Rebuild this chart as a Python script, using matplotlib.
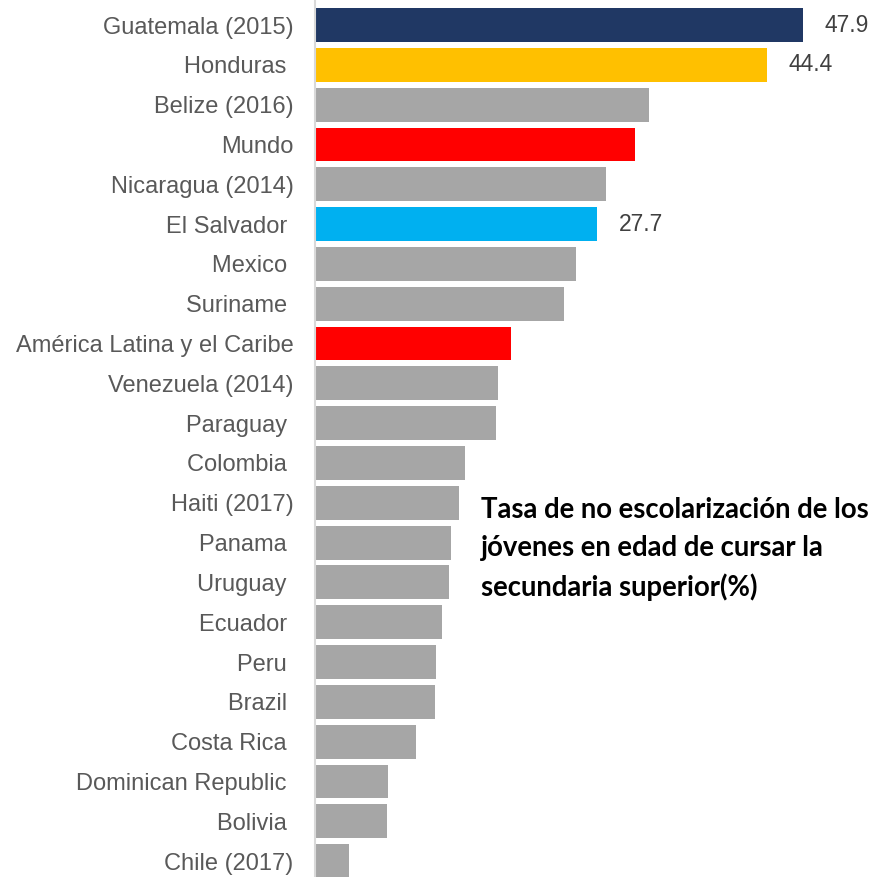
import matplotlib.pyplot as plt
import numpy as np

countries = [
    "Guatemala (2015)", "Honduras ", "Belize (2016)", "Mundo", "Nicaragua (2014)",
    "El Salvador ", "Mexico ", "Suriname ", "América Latina y el Caribe",
    "Venezuela (2014)", "Paraguay ", "Colombia ", "Haiti (2017)", "Panama ",
    "Uruguay ", "Ecuador ", "Peru ", "Brazil ", "Costa Rica ",
    "Dominican Republic ", "Bolivia ", "Chile (2017)",
]
values = [47.9, 44.4, 32.8, 31.4, 28.6, 27.7, 25.6, 24.4, 19.2, 18.0, 17.8,
          14.7, 14.1, 13.3, 13.2, 12.5, 11.9, 11.8, 9.9, 7.2, 7.1, 3.3]
highlight = {"Guatemala (2015)": "#203864", "Honduras ": "#FFC000",
             "Mundo": "#FF0000", "El Salvador ": "#00B0F0",
             "América Latina y el Caribe": "#FF0000"}
labelled = ["Guatemala (2015)", "Honduras ", "El Salvador "]

plt.rcParams["font.family"] = ["Liberation Sans", "DejaVu Sans"]

fig = plt.figure(figsize=(8.75, 8.77), dpi=100)
ax = fig.add_axes([0.36, 0.0, 0.64, 1.0])

y = np.arange(len(countries))
colors = [highlight.get(c, "#A6A6A6") for c in countries]
ax.barh(y, values, height=0.85, color=colors, edgecolor="none")

for i, (c, v) in enumerate(zip(countries, values)):
    if c in labelled:
        ax.text(v + 2.1, i, f"{v:.1f}", va="center", ha="left",
                fontsize=16.5, color="#404040")

ax.set_yticks(y)
ax.set_yticklabels(countries, fontsize=17, color="#595959")
ax.tick_params(axis="y", length=0, pad=15.5)
ax.set_xticks([])
ax.set_xlim(0, 54.96)
ax.set_ylim(21.4, -0.63)
for s in ["top", "right", "bottom"]:
    ax.spines[s].set_visible(False)
ax.spines["left"].set_color("#D9D9D9")
ax.spines["left"].set_linewidth(1.5)

fig.text(481 / 875, 1 - 497 / 877,
         "Tasa de no escolarización de los\njóvenes en edad de cursar la\nsecundaria superior(%)",
         fontsize=19.8, fontweight="bold", family=["Lato", "DejaVu Sans"],
         color="black", va="top", ha="left", linespacing=1.55)

fig.savefig("out.png", dpi=100)
